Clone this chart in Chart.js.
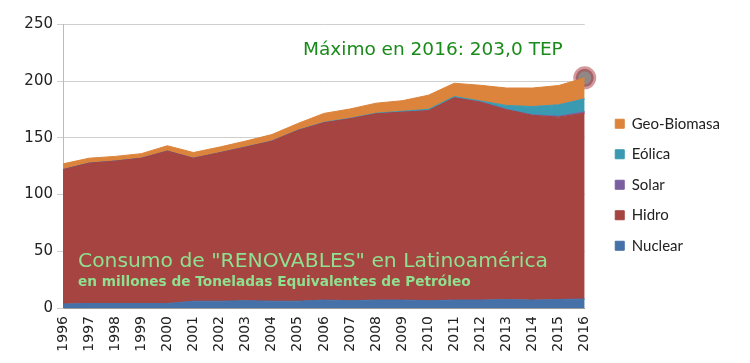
<!DOCTYPE html>
<html>
<head>
<meta charset="utf-8">
<script src="https://cdn.jsdelivr.net/npm/chart.js@4"></script>
<style>
  html, body { margin: 0; padding: 0; background: #fff; }
</style>
</head>
<body>
<canvas id="grafico" width="750" height="363"></canvas>
<script>
var anos = ['1996','1997','1998','1999','2000','2001','2002','2003','2004','2005','2006','2007','2008','2009','2010','2011','2012','2013','2014','2015','2016'];
var nuclear = [3.5, 4, 4, 4, 4, 6, 6, 6.5, 6, 6, 7, 6.5, 7, 7, 6.5, 7, 7, 7.5, 7, 7.5, 8];
var hidro = [118.5, 123.7, 125.5, 128, 134.3, 126, 130.8, 135.3, 141, 150.5, 156.3, 160.3, 164.2, 165.7, 167.5, 178.3, 174.5, 167.3, 162.8, 160.8, 163.8];
var solar = [0, 0, 0, 0, 0, 0, 0, 0, 0, 0, 0, 0, 0, 0, 0.1, 0.1, 0.2, 0.3, 0.5, 0.8, 1.2];
var eolica = [0.1, 0.1, 0.1, 0.1, 0.1, 0.1, 0.1, 0.2, 0.2, 0.3, 0.4, 0.5, 0.6, 0.8, 1.1, 1.1, 0.9, 3.5, 7.4, 10.1, 11.5];
var geo = [5, 4.3, 4.1, 4, 4.7, 5, 5, 5.2, 5.7, 5.9, 7.9, 8.2, 8.8, 9.3, 12.4, 11.7, 13.8, 15.4, 16.3, 17, 18.5];
var maximo = [null, null, null, null, null, null, null, null, null, null, null, null, null, null, null, null, null, null, null, null, 203];
var ticksY = [0, 50, 100, 150, 200, 250];

function serie(nome, dados, cor, fill) {
    return {
        label: nome,
        data: dados,
        backgroundColor: cor,
        borderColor: cor,
        borderWidth: 1,
        fill: fill,
        pointRadius: 0,
        tension: 0,
        stack: 'energia'
    };
}

// textos sobre o grafico + ajuste da legenda
var textos = {
    id: 'textos',
    afterLayout: function (chart) {
        var lg = chart.legend;
        lg.left += 15; lg.right += 15;
        lg.top -= 9; lg.bottom -= 9;
    },
    afterDatasetsDraw: function (chart) {
        var ctx = chart.ctx;
        ctx.save();
        ctx.textBaseline = 'alphabetic';
        ctx.textAlign = 'left';
        ctx.fillStyle = '#1a8a1a';
        ctx.font = '18.5px "DejaVu Sans"';
        ctx.fillText('Máximo en 2016: 203,0 TEP', 303, 55);
        ctx.fillStyle = '#8fe08f';
        ctx.font = '20.3px "DejaVu Sans"';
        ctx.fillText('Consumo de "RENOVABLES" en Latinoamérica', 78, 267);
        ctx.font = 'bold 13.7px "DejaVu Sans"';
        ctx.fillText('en millones de Toneladas Equivalentes de Petróleo', 78, 286);
        ctx.restore();
    }
};

var ctx = document.getElementById('grafico');
var grafico = new Chart(ctx, {
    type: 'line',
    data: {
        labels: anos,
        datasets: [
            serie('Nuclear', nuclear, '#4570a8', 'origin'),
            serie('Hidro', hidro, '#a54441', '-1'),
            serie('Solar', solar, '#7b5ea0', '-1'),
            serie('Eólica', eolica, '#3a9ab2', '-1'),
            serie('Geo-Biomasa', geo, '#dc843c', '-1'),
            {
                label: 'max',
                data: maximo,
                stack: 'max',
                showLine: false,
                fill: false,
                pointRadius: 9,
                pointBorderWidth: 5,
                pointBackgroundColor: 'rgba(110,95,95,0.75)',
                pointBorderColor: 'rgba(175,70,75,0.55)'
            }
        ]
    },
    plugins: [textos],
    options: {
        responsive: false,
        animation: false,
        layout: { padding: { top: 24.5, right: 35, bottom: 0, left: 0 } },
        plugins: {
            legend: {
                position: 'right',
                reverse: true,
                labels: {
                    filter: function (item) { return item.text !== 'max'; },
                    boxWidth: 9,
                    boxHeight: 9,
                    padding: 15.5,
                    color: '#222',
                    font: { family: 'Lato', size: 15 }
                }
            },
            tooltip: { enabled: false }
        },
        scales: {
            x: {
                offset: false,
                grid: { display: false, drawTicks: true, tickLength: 5, color: '#999' },
                border: { color: '#999' },
                ticks: {
                    minRotation: 90,
                    maxRotation: 90,
                    color: '#222',
                    font: { family: 'DejaVu Sans', size: 14 }
                },
                afterFit: function (s) { s.height = 55; }
            },
            y: {
                stacked: true,
                min: 0,
                max: 250,
                afterBuildTicks: function (s) { s.ticks = ticksY.map(function (v) { return { value: v }; }); },
                grid: { color: '#cfcfcf', tickLength: 6, drawTicks: true },
                border: { color: '#bbb' },
                ticks: {
                    color: '#222',
                    padding: 4,
                    font: { family: 'DejaVu Sans', size: 15 }
                },
                afterFit: function (s) { s.width = 63; }
            }
        }
    }
});
</script>
</body>
</html>
